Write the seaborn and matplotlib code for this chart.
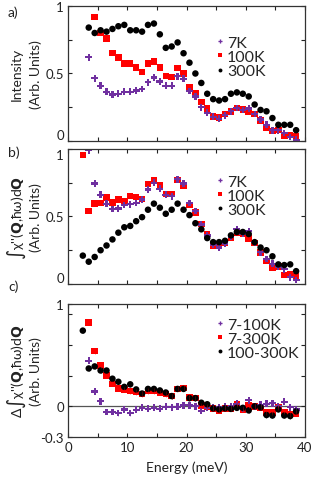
import matplotlib
matplotlib.use("Agg")
import matplotlib.pyplot as plt
import numpy as np
import pandas as pd
import seaborn as sns

# energies (meV)
e_from_25 = np.arange(2.5, 39.0, 1.0)   # 2.5 .. 38.5
e_from_35 = np.arange(3.5, 39.0, 1.0)   # 3.5 .. 38.5
e_from_45 = np.arange(4.5, 39.0, 1.0)   # 4.5 .. 38.5

# panel a: intensity
a_7k = [0.62, 0.465, 0.41, 0.365, 0.345, 0.35, 0.365, 0.365, 0.375, 0.385, 0.435, 0.47,
        0.44, 0.41, 0.41, 0.48, 0.46, 0.37, 0.33, 0.25, 0.21, 0.18, 0.165, 0.19, 0.22,
        0.245, 0.23, 0.24, 0.20, 0.16, 0.12, 0.08, 0.08, 0.06, 0.03, 0.01]
a_100k = [0.92, 0.80, 0.76, 0.65, 0.62, 0.575, 0.575, 0.545, 0.51, 0.575, 0.59, 0.545,
          0.48, 0.475, 0.54, 0.50, 0.40, 0.35, 0.29, 0.24, 0.18, 0.175, 0.20, 0.22, 0.245,
          0.235, 0.22, 0.20, 0.15, 0.10, 0.075, 0.08, 0.04, 0.045, 0.035]
a_300k = [0.84, 0.80, 0.82, 0.81, 0.83, 0.85, 0.86, 0.82, 0.82, 0.81, 0.86, 0.87, 0.79,
          0.69, 0.70, 0.73, 0.65, 0.58, 0.50, 0.43, 0.35, 0.31, 0.30, 0.31, 0.35, 0.36,
          0.35, 0.33, 0.27, 0.23, 0.22, 0.17, 0.12, 0.12, 0.12, 0.08]

# panel b: integrated chi''
b_7k = [0.99, 0.745, 0.66, 0.595, 0.555, 0.56, 0.585, 0.59, 0.60, 0.625, 0.70, 0.75,
        0.705, 0.66, 0.65, 0.775, 0.745, 0.60, 0.54, 0.44, 0.36, 0.29, 0.27, 0.30, 0.35,
        0.405, 0.37, 0.39, 0.31, 0.235, 0.185, 0.15, 0.13, 0.11, 0.05, 0.03]
b_100k = [0.955, 0.54, 0.595, 0.60, 0.64, 0.605, 0.625, 0.615, 0.65, 0.645, 0.63, 0.74,
          0.77, 0.73, 0.665, 0.665, 0.77, 0.725, 0.585, 0.53, 0.445, 0.365, 0.285, 0.28,
          0.305, 0.345, 0.38, 0.375, 0.335, 0.305, 0.235, 0.17, 0.12, 0.13, 0.065, 0.075, 0.06]
b_300k = [0.21, 0.165, 0.20, 0.25, 0.285, 0.33, 0.38, 0.42, 0.43, 0.465, 0.495, 0.55,
          0.595, 0.565, 0.52, 0.55, 0.595, 0.55, 0.51, 0.45, 0.405, 0.34, 0.31, 0.31, 0.32,
          0.36, 0.385, 0.385, 0.37, 0.31, 0.27, 0.25, 0.205, 0.145, 0.14, 0.145, 0.095]

# panel c: differences
c_7_100 = [0.445, 0.145, 0.05, -0.055, -0.055, -0.065, -0.03, -0.065, -0.035, -0.015, -0.025,
           -0.015, -0.025, -0.005, -0.01, -0.005, 0.01, 0.01, 0.0, -0.045, -0.015, -0.015,
           -0.01, -0.005, 0.0, 0.025, -0.02, 0.06, 0.0, 0.015, 0.025, 0.03, 0.0, 0.045, -0.01, -0.03]
c_7_300 = [0.82, 0.54, 0.40, 0.30, 0.22, 0.175, 0.165, 0.15, 0.14, 0.12, 0.15, 0.15, 0.135,
           0.12, 0.10, 0.17, 0.18, 0.085, 0.08, 0.01, 0.0, -0.02, -0.04, -0.02, -0.02, 0.02,
           -0.035, 0.01, 0.0, -0.01, -0.06, -0.06, -0.01, -0.055, -0.075, -0.07]
c_100_300 = [0.74, 0.37, 0.39, 0.35, 0.35, 0.27, 0.24, 0.19, 0.215, 0.165, 0.125, 0.17, 0.17,
             0.155, 0.135, 0.10, 0.17, 0.17, 0.08, 0.08, 0.035, 0.02, -0.02, -0.03, -0.02,
             -0.025, -0.015, -0.015, -0.04, 0.0, -0.01, -0.085, -0.09, -0.03, -0.09, -0.095, -0.05]
c_err = 0.025

purple = "#7030A0"
red = "#FF0000"
black = "#000000"

font = ["Lato", "DejaVu Sans"]


def panel_frame(series):
    # series: list of (label, energies, values); draw order = list order
    parts = []
    for label, e, v in series:
        parts.append(pd.DataFrame({"Energy": e, "Value": v, "Series": label}))
    return pd.concat(parts, ignore_index=True)


def draw_panel(ax, series, labels, colors, markers, sizes):
    data = panel_frame(series)
    sns.scatterplot(data=data, x="Energy", y="Value", hue="Series", style="Series",
                    hue_order=labels, style_order=labels,
                    palette=dict(zip(labels, colors)), markers=dict(zip(labels, markers)),
                    size="Series", sizes=dict(zip(labels, sizes)), size_order=labels,
                    edgecolor="none", linewidth=0, ax=ax, legend=True)
    ax.set_xlim(0, 40)
    ax.set_xticks(np.arange(0, 41, 5))
    ax.tick_params(direction="in", top=True, right=True, length=3, width=0.8,
                   labelsize=9.5, colors="#222222", pad=3)
    for s in ax.spines.values():
        s.set_linewidth(0.9)
        s.set_color("#333333")
    ax.set_xlabel("")
    ax.set_ylabel("")


sns.set_theme(style="ticks")
plt.rcParams["font.family"] = font

fig = plt.figure(figsize=(3.16, 4.85), dpi=100)
ax_a = fig.add_axes([0.2152, 0.7072, 0.75, 0.2784])
ax_b = fig.add_axes([0.2152, 0.4124, 0.75, 0.2784])
ax_c = fig.add_axes([0.2152, 0.0969, 0.75, 0.2742])

temps = ["7K", "100K", "300K"]
cols = [purple, red, black]
marks = ["P", "s", "o"]
szs = [24, 22, 22]

draw_panel(ax_a, [("100K", e_from_45, a_100k), ("7K", e_from_35, a_7k),
                  ("300K", e_from_35, a_300k)], temps, cols, marks, szs)
draw_panel(ax_b, [("100K", e_from_25, b_100k), ("7K", e_from_35, b_7k),
                  ("300K", e_from_25, b_300k)], temps, cols, marks, szs)

diffs = ["7-100K", "7-300K", "100-300K"]
ax_c.axhline(0, color="#555555", lw=0.9, zorder=0)
ax_c.errorbar(e_from_35, c_7_100, yerr=c_err, fmt="none", ecolor=purple, elinewidth=0.6, alpha=0.6)
ax_c.errorbar(e_from_35, c_7_300, yerr=c_err, fmt="none", ecolor=red, elinewidth=0.6, alpha=0.6)
ax_c.errorbar(e_from_25, c_100_300, yerr=c_err, fmt="none", ecolor=black, elinewidth=0.6, alpha=0.6)
draw_panel(ax_c, [("7-300K", e_from_35, c_7_300), ("7-100K", e_from_35, c_7_100),
                  ("100-300K", e_from_25, c_100_300)], diffs, cols, marks, szs)

for ax in (ax_a, ax_b):
    ax.set_ylim(0, 1)
    ax.set_yticks([0, 0.25, 0.5, 0.75, 1])
    ax.set_yticklabels(["0", "", "0.5", "", "1"])
    ax.set_xticklabels([])

# keep the stacked "0" / "1" labels apart, as in the reference
ax_a.get_yticklabels()[0].set_va("bottom")
ax_b.get_yticklabels()[0].set_va("bottom")
ax_b.get_yticklabels()[-1].set_va("top")

ax_c.set_ylim(-0.3, 1)
ax_c.set_yticks([-0.3, 0, 0.3, 0.6, 0.9, 1])
ax_c.set_yticklabels(["-0.3", "0", "", "", "", "1"])
ax_c.set_xticklabels(["0", "", "10", "", "20", "", "30", "", "40"])
ax_c.set_xlabel("Energy (meV)", fontsize=10, color="#222222", labelpad=5)

legend_pos = {ax_a: (0.58, 0.84), ax_b: (0.58, 0.87), ax_c: (0.58, 0.96)}
for ax, pos in legend_pos.items():
    h, l = ax.get_legend_handles_labels()
    ax.legend(h, l, loc="upper left", bbox_to_anchor=pos, frameon=False, fontsize=11.5,
              handletextpad=0.05, labelspacing=0.0, borderpad=0, handlelength=0.8,
              markerscale=0.6)

ylabels = {
    ax_a: "Intensity",
    ax_b: "∫χ''(" + r"$\mathbf{Q}$" + ",ħω)d" + r"$\mathbf{Q}$",
    ax_c: "Δ∫χ''(" + r"$\mathbf{Q}$" + ",ħω)d" + r"$\mathbf{Q}$",
}
for ax, txt in ylabels.items():
    ax.text(-0.215, 0.5, txt, transform=ax.transAxes, rotation=90, ha="center",
            va="center", fontsize=10, color="#222222")
    ax.text(-0.135, 0.5, "(Arb. Units)", transform=ax.transAxes, rotation=90,
            ha="center", va="center", fontsize=10, color="#222222")

fig.text(8 / 316, 1 - 13 / 485, "a)", fontsize=10, va="center", color="#222222")
fig.text(8 / 316, 1 - 153 / 485, "b)", fontsize=10, va="center", color="#222222")
fig.text(8 / 316, 1 - 287 / 485, "c)", fontsize=10, va="center", color="#222222")

fig.savefig("out.png", dpi=100, facecolor="white")
